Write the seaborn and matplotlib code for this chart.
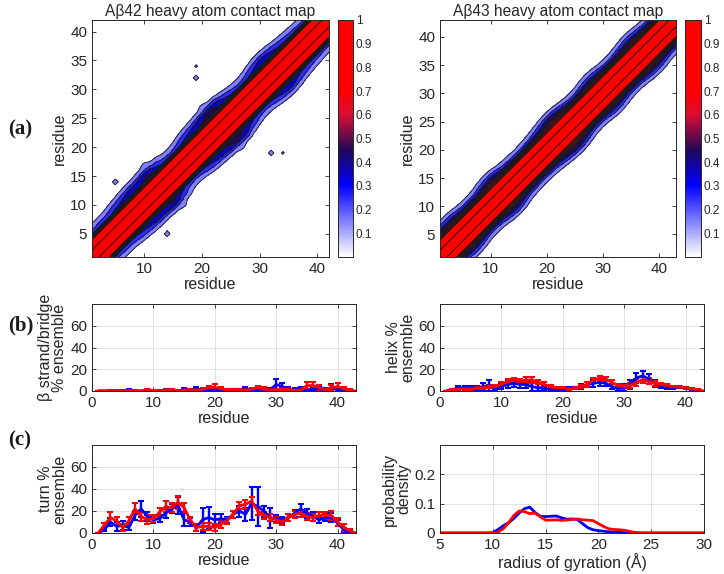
import numpy as np
import pandas as pd
import seaborn as sns
import matplotlib.pyplot as plt
from matplotlib.colors import LinearSegmentedColormap, Normalize
from matplotlib.cm import ScalarMappable

# ---- contact maps: probability vs sequence separation |i-j|, plus how far
# the off-diagonal contacts reach along the diagonal (read per residue)
sep_profile42 = [1.0, 0.91, 0.86, 0.80, 0.25, 0.14, 0.07, 0.03, 0.01]
sep_profile43 = [1.0, 0.91, 0.86, 0.80, 0.36, 0.16, 0.08, 0.03, 0.01]
spread42 = [0.9, 1.0, 1.1, 1.2, 1.2, 1.3, 1.6, 1.8, 2.1, 2.3, 2.2, 2.6, 2.9, 2.1,
            1.4, 1.1, 1.0, 1.3, 1.7, 2.0, 2.2, 2.6, 2.9, 3.0, 2.6, 2.0, 1.5, 1.2,
            1.1, 1.4, 1.8, 2.2, 2.3, 2.0, 1.6, 1.4, 1.2, 1.1, 1.0, 0.9, 0.9, 0.9]
spread43 = [1.0, 1.1, 1.4, 1.7, 1.8, 1.6, 1.3, 1.2, 1.2, 1.4, 1.8, 2.1, 1.9, 1.4,
            1.2, 1.1, 1.0, 1.1, 1.2, 1.4, 1.7, 2.1, 2.3, 2.1, 1.6, 1.3, 1.2, 1.3,
            1.6, 1.8, 1.6, 1.3, 1.2, 1.2, 1.4, 1.7, 1.9, 1.7, 1.4, 1.3, 1.2, 1.1, 1.0]
# isolated / protruding contacts (residue a, residue b, probability)
islands42 = [(5, 14, 0.19), (19, 32, 0.19), (19, 34, 0.13), (10, 17, 0.13),
             (12, 18, 0.12), (20, 27, 0.14), (22, 28, 0.22), (30, 36, 0.12),
             (33, 38, 0.13), (6, 11, 0.12)]
islands43 = [(5, 10, 0.13), (11, 16, 0.14), (21, 27, 0.15), (29, 34, 0.13),
             (36, 41, 0.12)]

# ---- secondary structure (% ensemble), Abeta42 = blue, Abeta43 = red
beta42 = [0, 0, 0, 0, 0.3, 0.5, 0, 0, 0.5, 0, 0, 1, 0.5, 0, 1.5, 0.5, 2, 1, 1, 1.5, 1,
          0.5, 1, 0.5, 2, 1, 1, 2, 1, 6, 4, 2, 1, 2, 0.5, 2, 2, 1, 3, 1, 0.5, 0]
beta42_err = [0, 0, 0, 0, 0.5, 1, 0, 0, 1, 0, 0, 1, 1, 0, 1.5, 1, 2, 1.5, 1.5, 1.5, 1,
              1, 1, 1, 2, 1, 1.5, 2, 1.5, 5, 3, 2, 1.5, 2, 1, 2, 2, 1.5, 3, 1.5, 1, 0]
beta43 = [0, 0, 0.3, 0.3, 0, 0.5, 0.3, 0, 1, 0.3, 0.3, 0.5, 1, 0.3, 0.5, 1, 1, 1.5, 3,
          3.5, 2, 1, 1, 1, 1, 1.5, 3, 2, 1, 1, 2, 1.5, 0.5, 1, 5, 5, 3, 1, 3, 4, 2, 0.5, 0]
beta43_err = [0, 0, 0.5, 0.5, 0, 0.5, 0.5, 0, 1, 0.5, 0.5, 1, 1, 0.5, 1, 1, 1, 1.5, 2,
              2.5, 2, 1, 1, 1, 1, 1.5, 2, 2, 1, 1, 1.5, 1.5, 1, 1, 3, 3, 2.5, 1, 2.5, 3, 2, 1, 0]

helix42 = [0, 1, 3, 3, 3, 3, 4, 5, 3, 4, 6, 7, 6, 6, 4, 3, 3, 1, 1, 2, 3, 3, 4, 6, 7,
           8, 7, 4, 2, 3, 6, 12, 14, 11, 7, 5, 4, 3, 4, 3, 1, 0]
helix42_err = [0, 1, 2, 2, 2, 2, 3, 5, 2, 2, 3, 3, 3, 3, 4, 3, 2, 1, 1, 1, 1, 1, 2, 2,
               3, 3, 2, 2, 2, 3, 4, 5, 4, 5, 3, 2, 2, 1, 1, 1, 1, 0]
helix43 = [0, 1, 2, 2, 2, 3, 3, 4, 4, 6, 9, 10, 9, 10, 10, 8, 6, 4, 3, 3, 2, 3, 4, 6,
           10, 12, 11, 8, 5, 4, 5, 8, 10, 9, 7, 6, 5, 4, 4, 3, 2, 1, 0]
helix43_err = [0, 1, 1, 1, 1, 1, 1, 1.5, 1.5, 2, 2, 2, 2, 2.5, 2.5, 2, 2, 1.5, 1, 1, 1,
               1, 1.5, 2, 2, 2, 2, 2, 1.5, 1.5, 2, 3, 3, 3, 2, 1.5, 1.5, 1, 1, 1, 1, 1, 0]

turn42 = [0, 3, 10, 6, 7, 5, 16, 22, 15, 12, 13, 18, 22, 25, 12, 10, 5, 12, 14, 12,
          13, 12, 17, 20, 17, 27, 24, 20, 14, 13, 12, 14, 18, 22, 18, 15, 12, 14, 14, 9, 3, 1]
turn42_err = [0, 1, 4, 4, 4, 2, 4, 7, 4, 3, 3, 4, 4, 8, 6, 4, 3, 11, 10, 5, 4, 3, 3, 5,
              6, 15, 18, 5, 9, 3, 3, 3, 3, 4, 4, 4, 3, 3, 4, 3, 2, 1]
turn43 = [0, 7, 14, 11, 5, 11, 22, 15, 12, 13, 19, 24, 23, 28, 23, 12, 5, 6, 6, 5, 8,
          11, 17, 25, 26, 29, 20, 16, 14, 12, 10, 14, 17, 18, 15, 14, 16, 16, 16, 10, 5, 2, 0]
turn43_err = [0, 2, 5, 4, 3, 4, 5, 4, 4, 3, 4, 5, 4, 6, 4, 3, 3, 3, 3, 3, 3, 3, 3, 3,
              4, 4, 4, 3, 3, 3, 3, 3, 3, 3, 3, 3, 3, 3, 4, 4, 3, 2, 0]

# ---- radius of gyration distributions
rg_bins = [5 + 0.5 * k for k in range(51)]
rg42 = [0] * 10 + [0.001, 0.012, 0.025, 0.035, 0.05, 0.068, 0.083, 0.088, 0.07, 0.057,
                   0.056, 0.057, 0.058, 0.052, 0.047, 0.048, 0.046, 0.032, 0.018, 0.011,
                   0.008, 0.006, 0.004, 0.003, 0.002, 0.001, 0.0005] + [0] * 14
rg43 = [0] * 10 + [0, 0.003, 0.015, 0.035, 0.06, 0.075, 0.073, 0.066, 0.068, 0.055,
                   0.044, 0.044, 0.045, 0.043, 0.044, 0.046, 0.048, 0.045, 0.044, 0.042,
                   0.032, 0.022, 0.014, 0.012, 0.011, 0.009, 0.005] + [0.002, 0.0005] + [0] * 12


def contact_map(profile, spread, islands=()):
    n = len(spread)
    res = np.arange(1, n + 1)
    i, j = np.meshgrid(res, res)
    d = np.abs(i - j)
    s = np.interp((i + j) / 2, res, spread)
    prof = np.array(profile + [0.0] * (n - len(profile)))
    scale = np.where(d >= 5, s, np.where(d == 4, np.sqrt(s), 1.0))
    cm = prof[d] * scale
    for a, b, v in islands:
        cm[a - 1, b - 1] = max(cm[a - 1, b - 1], v)
        cm[b - 1, a - 1] = max(cm[b - 1, a - 1], v)
    return res, np.clip(cm, 0, 1)


sns.set_theme(style="ticks")
plt.rcParams['font.family'] = ['Liberation Sans', 'DejaVu Sans']
dark = (0.15, 0.15, 0.15)
plt.rcParams.update({
    'axes.edgecolor': dark, 'xtick.color': dark, 'ytick.color': dark,
    'axes.labelcolor': dark, 'text.color': dark, 'axes.linewidth': 0.7,
    'xtick.direction': 'in', 'ytick.direction': 'in',
    'xtick.major.size': 3, 'ytick.major.size': 3,
    'xtick.major.width': 0.6, 'ytick.major.width': 0.6,
    'xtick.top': True, 'ytick.right': True,
    'xtick.labelsize': 11, 'ytick.labelsize': 11, 'axes.labelsize': 11.5,
})

cmap = LinearSegmentedColormap.from_list("contact", [
    (0.0, (1, 1, 1)), (0.3, (0, 0, 1)), (0.45, (0.12, 0.03, 0.35)),
    (0.6, (0.85, 0.05, 0.2)), (0.7, (1, 0, 0)), (1.0, (1, 0, 0))])

W, H = 724, 574
fig = plt.figure(figsize=(7.24, 5.74), dpi=100)


def px_axes(x0, y0, x1, y1):
    return fig.add_axes([x0 / W, 1 - y1 / H, (x1 - x0) / W, (y1 - y0) / H])


fill_levels = [0.1, 0.2, 0.3, 0.4, 0.5, 0.6, 0.7, 0.8, 0.9, 1.001]
line_levels = [0.1, 0.2, 0.3, 0.4, 0.5, 0.6, 0.7, 0.8, 0.9]
line_widths = [0.6, 0.6, 0.8, 1.0, 1.0, 1.0, 1.0, 0.8, 0.7]

maps = [
    ("A\u03b242 heavy atom contact map", sep_profile42, spread42, islands42,
     (92, 20, 329, 257), (338, 20, 353, 257)),
    ("A\u03b243 heavy atom contact map", sep_profile43, spread43, islands43,
     (440, 20, 676, 257), (685, 20, 701, 257)),
]
for title, prof, spread, isl, box, cbox in maps:
    ax = px_axes(*box)
    res, cm = contact_map(prof, spread, isl)
    ax.contourf(res, res, cm, levels=fill_levels, cmap=cmap, vmin=0, vmax=1)
    ax.contour(res, res, cm, levels=line_levels, colors='k', linewidths=line_widths)
    ax.set_xlim(1, res[-1])
    ax.set_ylim(1, res[-1])
    ax.set_xticks([10, 20, 30, 40])
    ax.set_yticks([5, 10, 15, 20, 25, 30, 35, 40])
    ax.set_xlabel("residue", labelpad=1)
    ax.set_ylabel("residue", labelpad=2)
    ax.set_title(title, fontsize=11.2, pad=3)
    cax = px_axes(*cbox)
    cb = fig.colorbar(ScalarMappable(norm=Normalize(0, 1), cmap=cmap), cax=cax,
                      ticks=[0.1, 0.2, 0.3, 0.4, 0.5, 0.6, 0.7, 0.8, 0.9, 1.0])
    cb.ax.set_yticklabels(["0.1", "0.2", "0.3", "0.4", "0.5", "0.6", "0.7",
                           "0.8", "0.9", "1"])
    cb.ax.tick_params(labelsize=8.5, length=2, right=True, left=False, pad=2)
    cb.outline.set_linewidth(0.7)
    cb.outline.set_edgecolor(dark)


def ss_panel(box, ylabel, y42, e42, y43, e43):
    ax = px_axes(*box)
    for vals, errs, col in [(y42, e42, 'blue'), (y43, e43, 'red')]:
        r = np.arange(1, len(vals) + 1)
        ax.errorbar(r, vals, yerr=errs, color=col, lw=2, elinewidth=1.7,
                    capsize=2, capthick=1.5)
    ax.set_xlim(0, 43)
    ax.set_ylim(0, 80)
    ax.set_xticks([0, 10, 20, 30, 40])
    ax.set_yticks([0, 20, 40, 60])
    ax.grid(True, color=(0.87, 0.87, 0.87), lw=0.6)
    ax.set_axisbelow(True)
    ax.set_xlabel("residue", labelpad=1)
    ax.set_ylabel(ylabel, labelpad=2, linespacing=0.95)
    return ax


ss_panel((92, 304, 356, 391), "\u03b2 strand/bridge\n% ensemble",
         beta42, beta42_err, beta43, beta43_err)
ss_panel((440, 304, 704, 391), "helix %\nensemble",
         helix42, helix42_err, helix43, helix43_err)
ss_panel((92, 445, 356, 533), "turn %\nensemble",
         turn42, turn42_err, turn43, turn43_err)

ax = px_axes(440, 445, 704, 533)
rg = pd.DataFrame({"rg": rg_bins, "Ab42": rg42, "Ab43": rg43})
sns.lineplot(data=rg, x="rg", y="Ab42", color='blue', lw=2, ax=ax)
sns.lineplot(data=rg, x="rg", y="Ab43", color='red', lw=2, ax=ax)
ax.set_xlim(5, 30)
ax.set_ylim(0, 0.3)
ax.set_xticks([5, 10, 15, 20, 25, 30])
ax.set_yticks([0, 0.1, 0.2])
ax.set_yticklabels(["0", "0.1", "0.2"])
ax.grid(True, color=(0.87, 0.87, 0.87), lw=0.6)
ax.set_axisbelow(True)
ax.set_xlabel("radius of gyration (\u00c5)", labelpad=1)
ax.set_ylabel("probability\ndensity", labelpad=2, linespacing=0.95)

for lab, y in [("(a)", 129), ("(b)", 325), ("(c)", 440)]:
    fig.text(8 / W, 1 - y / H, lab, fontsize=15, fontweight='bold',
             family=['Liberation Serif', 'DejaVu Serif'], va='center', color='k')

fig.savefig("out.png", dpi=100)
